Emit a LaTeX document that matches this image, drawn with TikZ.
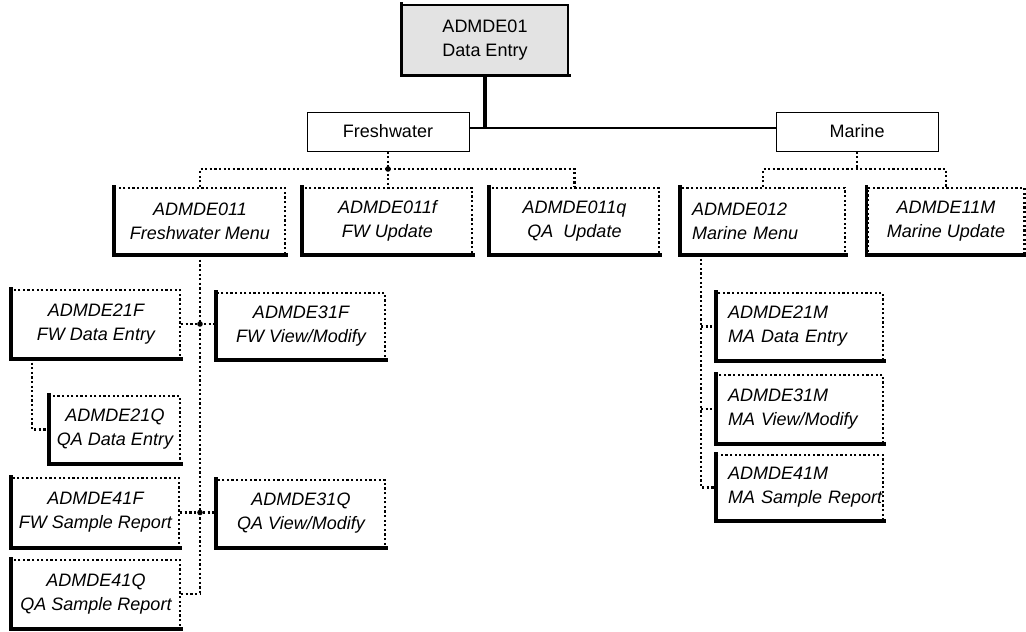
\documentclass[tikz,border=0pt]{standalone}
\usepackage{fontspec}
\setmainfont{Liberation Sans}
\begin{document}
\begin{tikzpicture}[x=0.5pt,y=-0.5pt,
  bx/.style 2 args={minimum width=#1*0.5pt, minimum height=#2*0.5pt},
  dbox/.style={draw, line width=1.1pt, dash pattern=on 1.1pt off 1.2pt, inner sep=0pt, align=center,
    font=\fontsize{9}{12}\selectfont\itshape},
  lbox/.style={dbox, align=left, inner xsep=5.5pt, text width=#1*0.5pt-11pt},
  plainbox/.style={draw, line width=0.5pt, inner sep=0pt, font=\fontsize{9}{12}\selectfont},
  topbox/.style={draw, line width=0.8pt, fill=gray!22, inner sep=0pt, align=center, font=\fontsize{9}{12}\selectfont},
  boxshade/.style={line width=1.7pt, line cap=rect},
  conn/.style={line width=1.1pt, dash pattern=on 1.1pt off 1.2pt},
  solidconn/.style={line width=0.6pt},
  jdot/.style={fill=black}
]
\useasboundingbox (0,0) rectangle (1026,631);

% top
\node[topbox, bx={166}{70}] (top) at (485,40) {ADMDE01\\Data Entry};
\draw[boxshade] (top.north west) -- (top.south west) -- (top.south east);

\node[plainbox, bx={162}{39}] (fresh) at (388,131.5) {Freshwater};
\node[plainbox, bx={162}{39}] (marine) at (857,131.5) {Marine};

% row 2
\node[dbox, bx={170}{66}] (m011) at (200,221) {ADMDE011\\Freshwater Menu};
\node[dbox, bx={169}{66}] (m011f) at (387.5,221) {ADMDE011f\\FW Update};
\node[dbox, bx={169}{66}] (m011q) at (574.5,221) {ADMDE011q\\QA\ \ Update};
\node[lbox=164, bx={164}{66}] (m012) at (763,221) {\mbox{ADMDE012}\\\mbox{Marine Menu}};
\node[dbox, bx={157}{66}] (m11M) at (946,221) {ADMDE11M\\Marine Update};

% freshwater subtree
\node[dbox, bx={168}{68}] (m21F) at (96,324) {ADMDE21F\\FW Data Entry};
\node[dbox, bx={168}{66}] (m31F) at (301,326) {ADMDE31F\\FW View/Modify};
\node[dbox, bx={130}{67}] (m21Q) at (115,429.5) {ADMDE21Q\\QA Data Entry};
\node[dbox, bx={167}{69}] (m41F) at (95.5,512.5) {ADMDE41F\\FW Sample Report};
\node[dbox, bx={168}{67}] (m31Q) at (301,513.5) {ADMDE31Q\\QA View/Modify};
\node[dbox, bx={168}{68}] (m41Q) at (96,594) {ADMDE41Q\\QA Sample Report};

% marine subtree
\node[lbox=166, bx={166}{67}] (m21M) at (800,326.5) {\mbox{ADMDE21M}\\\mbox{MA Data Entry}};
\node[lbox=166, bx={166}{68}] (m31M) at (800,409) {\mbox{ADMDE31M}\\\mbox{MA View/Modify}};
\node[lbox=166, bx={166}{65}] (m41M) at (800,487.5) {\mbox{ADMDE41M}\\\mbox{MA Sample Report}};

\foreach \n in {m011,m011f,m011q,m012,m11M,m21F,m31F,m21Q,m41F,m31Q,m41Q,m21M,m31M,m41M}
  \draw[boxshade] (\n.north west) -- (\n.south west) -- (\n.south east);

% solid connectors
\draw[line width=1.6pt] (top.south) -- ([yshift=1.75pt]top.south |- fresh.east);
\draw[solidconn] ([yshift=1.75pt]fresh.east) -- ([yshift=1.75pt]marine.west);

% freshwater dotted connectors
\coordinate (fj) at (388,169);
\draw[conn] (fresh.south) -- (fj);
\draw[conn] (fj) -- (fj |- m011f.north);
\draw[conn] (m011.north) |- (fj) -| (m011q.north);
\fill[jdot] (fj) circle (1.4pt);

% marine dotted connectors
\coordinate (mj) at (857,169);
\draw[conn] (marine.south) -- (mj);
\draw[conn] (m012.north) |- (mj) -| (m11M.north);

% freshwater menu trunk
\draw[conn] (m011.south) -- (m011.south |- m41Q.east);
\draw[conn] (m21F.east) -- (m21F.east -| m31F.west);
\fill[jdot] (m011.south |- m21F.east) circle (1.4pt);
\draw[conn] (m41F.east) -- (m41F.east -| m31Q.west);
\fill[jdot] (m011.south |- m41F.east) circle (1.4pt);
\draw[conn] (m41Q.east) -- (m41Q.east -| m011.south);
\coordinate (c21) at (32,358);
\draw[conn] (c21) |- (m21Q.west);

% marine menu trunk
\coordinate (mv) at (701,254);
\draw[conn] (mv) |- (m41M.west);
\draw[conn] (mv |- m21M.west) -- (m21M.west);
\draw[conn] (mv |- m31M.west) -- (m31M.west);
\end{tikzpicture}
\end{document}
